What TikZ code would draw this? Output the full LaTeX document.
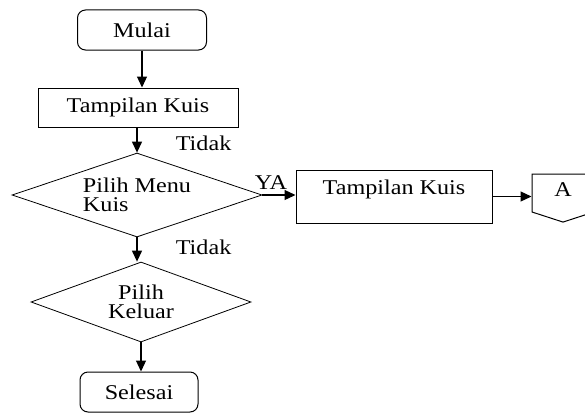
\documentclass[tikz,border=0pt]{standalone}
\usepackage{fontspec}
\setmainfont[FakeStretch=1.15]{Liberation Serif}
\usetikzlibrary{shapes.geometric,shapes.symbols,arrows.meta}

\begin{document}
\begin{tikzpicture}[x=1pt,y=-1pt,
            line width=1pt,
            flow/.style={draw=black,line width=1.2pt,-{Triangle[length=11pt,width=10pt]}},
            terminal/.style={draw=black,rounded corners=8pt,inner sep=0pt},
            process/.style={draw=black,inner sep=0pt},
            decision/.style={draw=black,line width=0.8pt,diamond,inner sep=0pt,align=left}]
            \tikzstyle{every node}+=[font=\fontsize{21}{19}\selectfont]
            \useasboundingbox (0,0) rectangle (585,412);
            \node [terminal,minimum width=129pt,minimum height=40pt] (mulai) at (142,30) {Mulai};
            \node [process,minimum width=200pt,minimum height=39pt] (tampil) at (138,107.5) {Tampilan Kuis};
            \node [decision,aspect=2.98,minimum width=250pt,minimum height=84pt] (menu) at (137,195) {Pilih Menu\\Kuis};
            \node [decision,aspect=2.75,align=center,minimum width=220pt,minimum height=80pt] (keluar) at (141,302) {Pilih\\Keluar};
            \node [terminal,minimum width=118pt,minimum height=40pt] (selesai) at (139,392) {Selesai};
            \node [process,align=center,minimum width=196pt,minimum height=53pt] (tampilkuis) at (394,196.5) {Tampilan Kuis\\\mbox{}};
            \node [draw=black,signal,signal to=south,signal from=nowhere,signal pointer angle=144,
                   minimum width=62pt,minimum height=38pt,inner sep=0pt] (konA) at (563,193) {};
            \node (hurufA) at (563,190) {A};
            \draw [flow] (mulai.south) -- (mulai.south |- tampil.north);
            \draw [flow] (tampil.south -| menu.north) -- (menu.north);
            \draw [flow] (menu.south) -- (menu.south |- keluar.north);
            \draw [flow] (keluar.south) -- (keluar.south |- selesai.north);
            \draw [flow] (menu.east) -- (menu.east -| tampilkuis.west);
            \draw [flow] (tampilkuis.east) -- (tampilkuis.east -| konA.west);
            \node [anchor=west] (tidak1) at (172,143) {Tidak};
            \node [anchor=west] (tidak2) at (172,247) {Tidak};
            \node (ya) at (271,183) {YA};
        \end{tikzpicture}
\end{document}
